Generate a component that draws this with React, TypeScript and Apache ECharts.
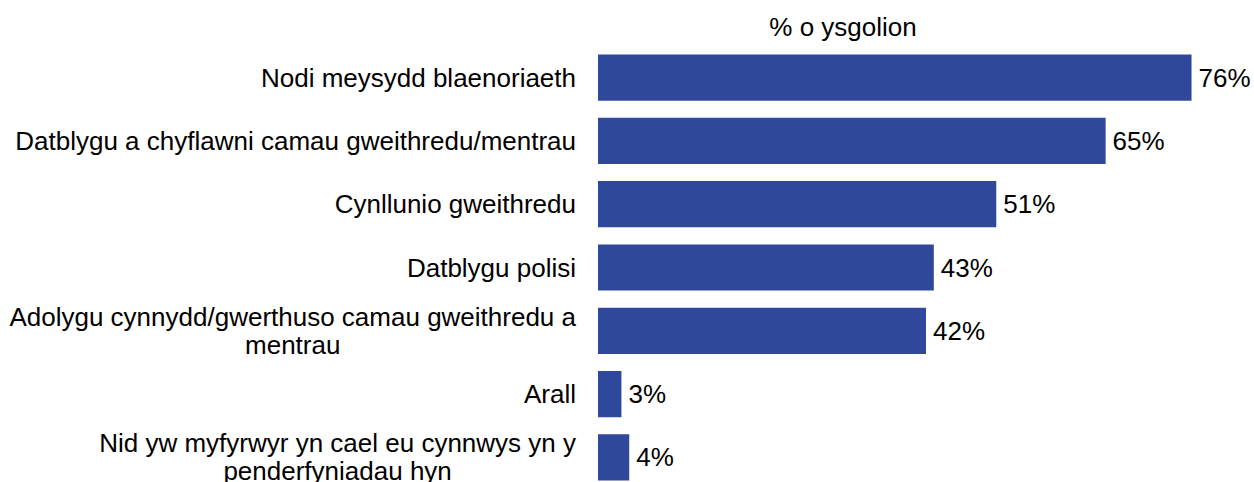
import React, { useEffect, useRef } from "react";
import * as echarts from "echarts";

const categories: string[] = [
  "Nodi meysydd blaenoriaeth",
  "Datblygu a chyflawni camau gweithredu/mentrau",
  "Cynllunio gweithredu",
  "Datblygu polisi",
  "Adolygu cynnydd/gwerthuso camau gweithredu a\nmentrau",
  "Arall",
  "Nid yw myfyrwyr yn cael eu cynnwys yn y\npenderfyniadau hyn",
];
const values: number[] = [76, 65, 51, 43, 42, 3, 4];
const axisName = "% o ysgolion";

const FONT = "'Liberation Sans', Arial, sans-serif";
const FS = 26;

export default function App() {
  const ref = useRef<HTMLDivElement>(null);
  useEffect(() => {
    if (!ref.current) return;
    const chart = echarts.init(ref.current, undefined, { renderer: "svg" });
    chart.setOption({
      animation: false,
      backgroundColor: "#ffffff",
      textStyle: { fontFamily: FONT },
      graphic: [
        {
          type: "text",
          x: 843,
          y: 27,
          style: {
            text: axisName,
            fontSize: FS,
            fontFamily: FONT,
            fill: "#000",
            textAlign: "center",
            textVerticalAlign: "middle",
          },
        },
      ],
      grid: {
        left: 598,
        top: 46,
        right: 0,
        bottom: -7,
        containLabel: false,
        outerBoundsMode: "none",
      },
      xAxis: {
        type: "value",
        min: 0,
        max: 84,
        show: false,
      },
      yAxis: {
        type: "category",
        inverse: true,
        data: categories,
        axisLine: { show: false },
        axisTick: { show: false },
        axisLabel: {
          margin: 22,
          color: "#000",
          fontSize: FS,
          fontFamily: FONT,
          lineHeight: 28,
          formatter: (v: string) =>
            v
              .split("\n")
              .map((s) => `{c|${s}}`)
              .join("\n"),
          rich: {
            c: { align: "center", fontSize: FS, lineHeight: 28, fontFamily: FONT, color: "#000" },
          },
        },
      },
      series: [
        {
          type: "bar",
          data: values,
          barCategoryGap: "27%",
          itemStyle: { color: "#30489C" },
          label: {
            show: true,
            position: "right",
            distance: 7,
            formatter: "{c}%",
            fontSize: FS,
            fontFamily: FONT,
            color: "#000",
          },
        },
      ],
    });
    return () => chart.dispose();
  }, []);
  return (
    <div
      ref={ref}
      style={{ position: "fixed", left: 0, top: 0, width: 1254, height: 482 }}
    />
  );
}
